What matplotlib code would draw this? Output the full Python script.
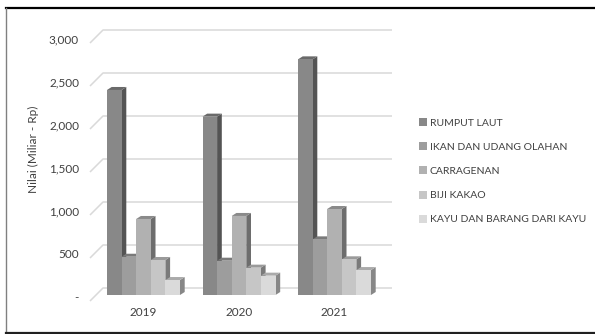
import matplotlib
matplotlib.use("Agg")
import matplotlib.pyplot as plt
from matplotlib.patches import Polygon, Patch
from matplotlib.lines import Line2D

# Export values (Miliar Rp) per commodity and year
years = ["2019", "2020", "2021"]
rumput_laut = [2384, 2074, 2740]
ikan_udang = [445, 399, 647]
carragenan = [884, 919, 1000]
biji_kakao = [407, 318, 415]
kayu_barang = [174, 225, 290]
series_names = ["RUMPUT LAUT", "IKAN DAN UDANG OLAHAN", "CARRAGENAN",
                "BIJI KAKAO", "KAYU DAN BARANG DARI KAYU"]
y_ticks = [0, 500, 1000, 1500, 2000, 2500, 3000]
y_tick_labels = ["-", "500", "1,000", "1,500", "2,000", "2,500", "3,000"]

series = [rumput_laut, ikan_udang, carragenan, biji_kakao, kayu_barang]
front_colors = ["#888888", "#9d9d9d", "#b1b1b1", "#c6c6c6", "#dadada"]

plt.rcParams["font.family"] = ["Lato", "DejaVu Sans"]

W, H, DPI = 595, 334, 100
fig = plt.figure(figsize=(W / DPI, H / DPI), dpi=DPI)
ax = fig.add_axes([0, 0, 1, 1])
ax.set_axis_off()

# pixel layout of the pseudo-3D plot
X0_PX = 143.5        # centre of first group
GROUP_PX = 95.5      # distance between groups
Y0_PX = 295.0        # baseline of bar fronts
PX_PER_UNIT = 0.086  # pixels per Miliar Rp
ax.set_xlim((0 - X0_PX) / GROUP_PX, (W - X0_PX) / GROUP_PX)
ax.set_ylim((Y0_PX - H) / PX_PER_UNIT, Y0_PX / PX_PER_UNIT)


def xu(px):
    return (px - X0_PX) / GROUP_PX


def dxu(px):
    return px / GROUP_PX


def dyu(px):
    return px / PX_PER_UNIT


bar_w = dxu(14.6)
depth_x = dxu(4.7)
depth_y = dyu(3.0)

# back wall gridlines with slanted floor edge on the left
wall_left, wall_right, front_left = xu(103), xu(392), xu(90)
wall_dy, front_dy = dyu(7), -dyu(6)
for v in y_ticks:
    ax.plot([front_left, wall_left, wall_right],
            [v + front_dy, v + wall_dy, v + wall_dy],
            color="#d9d9d9", lw=1.1, zorder=1, solid_capstyle="butt")


def shade(hexcol, f):
    r, g, b = (int(hexcol[i:i + 2], 16) for i in (1, 3, 5))
    return "#%02x%02x%02x" % (int(r * f), int(g * f), int(b * f))


n = len(series)
for gi in range(len(years)):
    for si in range(n):
        v = series[si][gi]
        xl = gi + (si - n / 2) * bar_w
        xr = xl + bar_w
        z = 2 + gi * 10 + si
        col = front_colors[si]
        side = Polygon([(xr, 0), (xr + depth_x, depth_y),
                        (xr + depth_x, v + depth_y), (xr, v)],
                       closed=True, facecolor=shade(col, 0.62),
                       edgecolor="none", zorder=z)
        top = Polygon([(xl, v), (xl + depth_x, v + depth_y),
                       (xr + depth_x, v + depth_y), (xr, v)],
                      closed=True, facecolor=shade(col, 0.78),
                      edgecolor="none", zorder=z)
        ax.add_patch(side)
        ax.add_patch(top)
        ax.bar(xl, v, width=bar_w, align="edge", color=col,
               edgecolor="none", zorder=z + 0.5)

# value labels along the front edge
for v, lab in zip(y_ticks, y_tick_labels):
    ax.text(xu(79), v - dyu(2.5), lab, ha="right", va="center",
            fontsize=8.5, color="#404040")

# category labels
for gi, yr in enumerate(years):
    ax.text(gi, -dyu(17), yr, ha="center", va="center",
            fontsize=8.5, color="#404040")

ax.text(xu(33), dyu(Y0_PX - 149), "Nilai (Miliar - Rp)", rotation=90,
        ha="center", va="center", fontsize=8.5, color="#404040")

handles = [Patch(facecolor=c, edgecolor="none") for c in front_colors]
fig.legend(handles, series_names, loc="upper left",
           bbox_to_anchor=(419 / W, 1 - 118 / H), frameon=False,
           fontsize=7.5, labelcolor="#404040", handlelength=0.8,
           handleheight=0.8, handletextpad=0.25, labelspacing=1.4,
           borderaxespad=0, borderpad=0)

# chart frame
fig.add_artist(Line2D([6 / W, 1], [1 - 8 / H, 1 - 8 / H],
                      transform=fig.transFigure, color="black", lw=1.6))
fig.add_artist(Line2D([6 / W, 6 / W], [1 - 8 / H, 1 - 332 / H],
                      transform=fig.transFigure, color="#808080", lw=1.0))
fig.add_artist(Line2D([6 / W, 1], [1 - 332.5 / H, 1 - 332.5 / H],
                      transform=fig.transFigure, color="#202020", lw=1.6))

fig.savefig("out.png", dpi=DPI)
